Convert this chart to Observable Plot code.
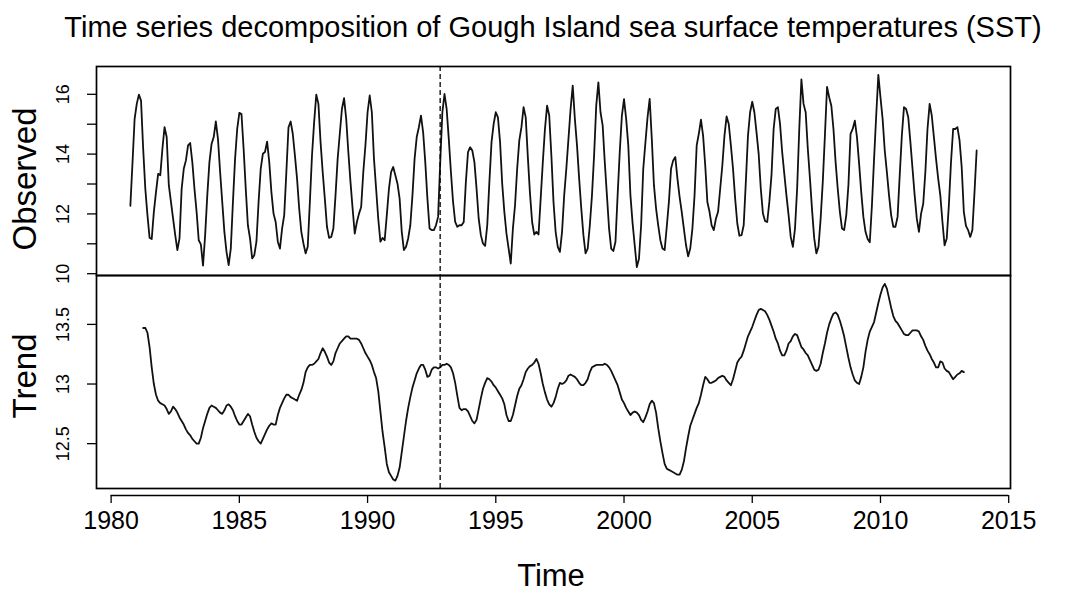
<!DOCTYPE html>
<html>
<head>
<meta charset="utf-8">
<script src="https://cdn.jsdelivr.net/npm/d3@7"></script>
<script src="https://cdn.jsdelivr.net/npm/@observablehq/plot@0.6"></script>
<style>
  html, body { margin: 0; padding: 0; background: #fff; }
  #wrap { position: relative; width: 1083px; height: 594px; background: #fff; font-family: "Liberation Sans", Arial, sans-serif; color: #000; overflow: hidden; }
  #wrap svg { position: absolute; left: 0; }
  .lbl { position: absolute; white-space: nowrap; transform: translateX(-50%); line-height: 1; }
</style>
</head>
<body>
<div id="wrap">
  <div class="lbl" id="title" style="left:553px; top:13px; font-size:29px;">Time series decomposition of Gough Island sea surface temperatures (SST)</div>
  <div class="lbl" id="xlab" style="left:551px; top:560px; font-size:31px;">Time</div>
</div>
<script>
// ---- data (monthly, starting Oct 1980) ----
const startYear = 1980.75;
const observed = [
12.27,13.7,15.18,15.68,15.99,15.79,14.18,12.84,11.96,11.2,11.16,12.07,
12.73,13.34,13.29,14.18,14.9,14.57,12.96,12.4,11.84,11.29,10.79,11.18,
12.84,13.51,13.79,14.29,14.37,13.73,12.84,12.07,11.12,10.98,10.27,11.29,
12.62,13.73,14.34,14.57,15.09,14.51,13.4,12.4,11.4,10.73,10.29,10.84,
12.4,13.84,14.84,15.38,15.34,14.18,12.84,11.62,11.18,10.51,10.62,11.07,
12.4,13.51,14.01,14.07,14.42,13.73,12.73,12.01,11.73,11.07,10.84,11.51,
11.96,13.4,14.9,15.09,14.68,13.96,13.18,12.18,11.4,11.01,10.68,10.9,
12.4,13.96,15.07,15.99,15.68,14.4,13.4,12.51,11.57,11.2,11.23,11.51,
12.62,13.84,14.68,15.51,15.87,15.18,14.07,13.07,12.18,11.34,11.73,12.01,
12.23,13.4,14.29,15.4,15.96,15.4,13.84,12.84,11.84,11.07,11.2,11.12,
11.96,12.84,13.4,13.57,13.29,13.01,12.51,11.4,10.79,10.9,11.18,11.62,
12.62,13.84,14.57,14.9,15.29,14.73,13.73,12.51,11.51,11.46,11.46,11.62,
11.9,13.73,15.4,16.01,15.51,14.51,13.4,12.4,11.73,11.57,11.62,11.62,
11.73,13.07,14.07,14.23,14.12,13.73,12.84,11.84,11.29,11.01,10.93,11.62,
13.07,14.4,15.01,15.4,15.23,14.4,13.01,12.07,11.34,10.84,10.34,11.51,
12.29,13.51,14.46,14.9,15.57,15.23,13.9,12.68,11.73,11.31,11.4,11.31,
12.51,13.73,14.84,15.62,15.29,13.96,12.4,11.4,10.9,10.73,11.4,12.62,
13.51,14.51,15.51,16.29,15.18,14.29,13.18,12.18,11.29,10.68,10.84,11.62,
12.62,13.96,15.62,16.4,15.4,14.96,13.73,12.62,11.51,10.84,10.76,11.07,
12.62,14.07,15.29,15.84,15.18,14.29,12.62,11.7,10.95,10.22,10.5,11.62,
13.51,14.38,15.23,15.85,14.51,12.96,12.18,11.62,11.12,10.84,10.79,11.57,
12.4,13.51,13.79,13.9,13.18,12.57,12.07,11.51,10.96,10.58,10.85,11.51,
12.62,14.29,14.68,15.15,14.62,13.62,12.4,12.07,11.62,11.46,11.84,12.07,
12.84,13.62,14.62,15.26,15.01,14.29,13.51,12.51,11.68,11.27,11.29,11.62,
13.07,14.62,15.4,15.75,15.4,14.73,14.01,12.84,12.01,11.76,11.73,12.4,
13.29,14.84,15.51,15.57,15.01,14.07,13.34,12.62,11.96,11.23,10.9,11.51,
12.84,14.84,16.5,15.68,15.4,14.18,13.18,12.12,11.18,10.68,10.9,11.84,
13.07,14.62,16.25,15.9,15.62,14.84,13.73,12.84,12.07,11.51,11.46,11.96,
12.96,14.68,14.84,15.12,14.57,13.68,12.73,11.9,11.4,11.16,11.05,12.29,
13.84,15.29,16.65,15.9,15.18,14.12,13.4,12.62,11.96,11.57,11.57,11.9,
13.29,14.62,15.57,15.51,15.23,14.4,13.51,12.62,11.84,11.4,12.01,12.34,
13.4,14.84,15.68,15.29,14.57,13.84,13.18,12.62,11.73,10.95,11.18,12.29,
13.73,14.84,14.84,14.9,14.46,13.57,12.07,11.6,11.46,11.23,11.46,12.73,
14.12
];
const trendStart = 6; // trend defined from the 7th month (Apr 1981)
const trend = [
13.47,13.47,13.43,13.31,13.14,13.0,12.91,12.86,12.84,12.83,12.82,12.79,
12.75,12.77,12.81,12.79,12.76,12.72,12.69,12.66,12.62,12.59,12.57,12.54,
12.52,12.5,12.5,12.55,12.63,12.69,12.75,12.8,12.82,12.81,12.8,12.78,
12.76,12.75,12.78,12.82,12.83,12.81,12.78,12.73,12.69,12.66,12.66,12.69,
12.72,12.75,12.73,12.66,12.6,12.55,12.52,12.5,12.54,12.58,12.62,12.65,
12.67,12.66,12.66,12.74,12.8,12.84,12.88,12.91,12.91,12.89,12.88,12.87,
12.86,12.91,12.95,13.01,13.1,13.14,13.16,13.16,13.17,13.19,13.21,13.26,
13.3,13.27,13.23,13.18,13.16,13.19,13.26,13.3,13.34,13.36,13.38,13.4,
13.4,13.38,13.38,13.38,13.38,13.37,13.34,13.3,13.26,13.23,13.2,13.16,
13.1,13.05,12.94,12.77,12.6,12.47,12.33,12.26,12.23,12.2,12.19,12.23,
12.3,12.43,12.56,12.69,12.8,12.89,12.97,13.03,13.09,13.13,13.16,13.16,
13.12,13.06,13.07,13.12,13.14,13.14,13.13,13.14,13.16,13.16,13.17,13.16,
13.14,13.09,13.01,12.9,12.8,12.78,12.79,12.79,12.77,12.73,12.69,12.67,
12.7,12.79,12.88,12.96,13.01,13.05,13.04,13.02,12.99,12.97,12.94,12.91,
12.88,12.83,12.74,12.69,12.69,12.74,12.82,12.9,12.96,12.99,13.04,13.1,
13.13,13.15,13.16,13.18,13.21,13.17,13.09,13.0,12.93,12.87,12.83,12.81,
12.84,12.89,12.96,13.01,13.0,13.01,13.03,13.07,13.08,13.07,13.06,13.04,
13.01,12.99,12.99,13.01,13.04,13.1,13.14,13.15,13.16,13.16,13.16,13.16,
13.17,13.16,13.14,13.11,13.07,13.03,12.99,12.93,12.87,12.84,12.8,12.77,
12.74,12.76,12.77,12.76,12.74,12.7,12.68,12.72,12.77,12.83,12.86,12.84,
12.76,12.63,12.52,12.42,12.33,12.29,12.28,12.27,12.26,12.25,12.24,12.24,
12.28,12.35,12.46,12.56,12.65,12.7,12.75,12.8,12.84,12.91,12.99,13.06,
13.04,13.01,13.01,13.02,13.03,13.05,13.06,13.07,13.06,13.03,13.01,12.99,
13.04,13.11,13.18,13.21,13.23,13.28,13.34,13.4,13.44,13.48,13.53,13.58,
13.62,13.63,13.62,13.61,13.58,13.54,13.49,13.44,13.38,13.34,13.28,13.24,
13.24,13.28,13.34,13.36,13.4,13.42,13.41,13.36,13.31,13.29,13.26,13.24,
13.2,13.16,13.12,13.11,13.12,13.17,13.26,13.34,13.43,13.5,13.55,13.59,
13.6,13.58,13.53,13.47,13.4,13.31,13.22,13.14,13.08,13.03,13.01,13.0,
13.06,13.14,13.27,13.37,13.44,13.48,13.52,13.6,13.68,13.75,13.81,13.84,
13.8,13.72,13.64,13.57,13.53,13.51,13.48,13.45,13.42,13.41,13.41,13.43,
13.45,13.45,13.45,13.44,13.4,13.37,13.32,13.28,13.25,13.21,13.18,13.14,
13.14,13.19,13.18,13.13,13.11,13.1,13.07,13.04,13.06,13.08,13.09,13.11,
13.1
];
const breakYear = 1992.83;
const xTicks = [1980, 1985, 1990, 1995, 2000, 2005, 2010, 2015];
const obsTicks = [10, 11, 12, 13, 14, 15, 16];
const obsLabels = [10, 12, 14, 16];
const trendTicks = [12.5, 13, 13.5];
const panelNames = ["Observed", "Trend"];

// ---- build tables ----
const obsData = observed.map((v, i) => ({t: startYear + i / 12, v}));
const trendData = trend.map((v, i) => ({t: startYear + (i + trendStart) / 12, v}));

const W = 1083;
const font = "'Liberation Sans', Arial, sans-serif";
const common = {
  width: W,
  marginLeft: 96,
  marginRight: 73,
  style: {fontFamily: font, background: "transparent", overflow: "visible", color: "#000"}
};
const xDomain = [1979.43, 2015.07];
const wrap = document.getElementById("wrap");

function place(svg, top) {
  svg.style.top = top + "px";
  wrap.appendChild(svg);
}

// rotated y tick labels (parallel to the axis, as in R)
function yLabels(values) {
  return Plot.text(values, {
    y: d => d, text: d => String(d), frameAnchor: "left",
    rotate: -90, textAnchor: "middle", lineAnchor: "middle",
    dx: -33, fontSize: 18
  });
}
function panelTitle(name, dy) {
  return Plot.text([name], {
    frameAnchor: "left", rotate: -90, textAnchor: "middle", lineAnchor: "middle",
    dx: -71, dy, fontSize: 33
  });
}

// Observed panel
const p1 = Plot.plot({
  ...common,
  height: 221, marginTop: 10, marginBottom: 2,
  x: {domain: xDomain, axis: null},
  y: {domain: [9.94, 16.93]},
  marks: [
    Plot.axisY(obsTicks, {tickSize: 9, tickFormat: () => "", label: null, strokeWidth: 1.3}),
    yLabels(obsLabels),
    panelTitle(panelNames[0], 8),
    Plot.line(obsData, {x: "t", y: "v", stroke: "#111", strokeWidth: 1.8}),
    Plot.ruleX([breakYear], {strokeDasharray: "5,3", strokeWidth: 1.3}),
    Plot.frame({stroke: "#000", strokeWidth: 1.7})
  ]
});
place(p1, 56);

// Trend panel
const p2 = Plot.plot({
  ...common,
  height: 225, marginTop: 10, marginBottom: 2,
  x: {domain: xDomain, axis: null},
  y: {domain: [12.124, 13.91]},
  marks: [
    Plot.axisY(trendTicks, {tickSize: 9, tickFormat: () => "", label: null, strokeWidth: 1.3}),
    yLabels(trendTicks),
    panelTitle(panelNames[1], -6),
    Plot.line(trendData, {x: "t", y: "v", stroke: "#111", strokeWidth: 1.8}),
    Plot.ruleX([breakYear], {strokeDasharray: "5,3", strokeWidth: 1.3}),
    Plot.frame({stroke: "#000", strokeWidth: 1.7})
  ]
});
place(p2, 265);

// Time axis
const p3 = Plot.plot({
  ...common,
  height: 47, marginTop: 0, marginBottom: 40,
  x: {domain: xDomain, axis: null},
  y: {domain: [0, 1], axis: null},
  marks: [
    Plot.ruleY([0], {x1: xTicks[0], x2: xTicks[xTicks.length - 1], strokeWidth: 1.6}),
    Plot.axisX(xTicks, {tickSize: 8, tickPadding: 8, fontSize: 25, label: null, tickFormat: d => String(d), strokeWidth: 1.3})
  ]
});
place(p3, 488);
</script>
</body>
</html>
